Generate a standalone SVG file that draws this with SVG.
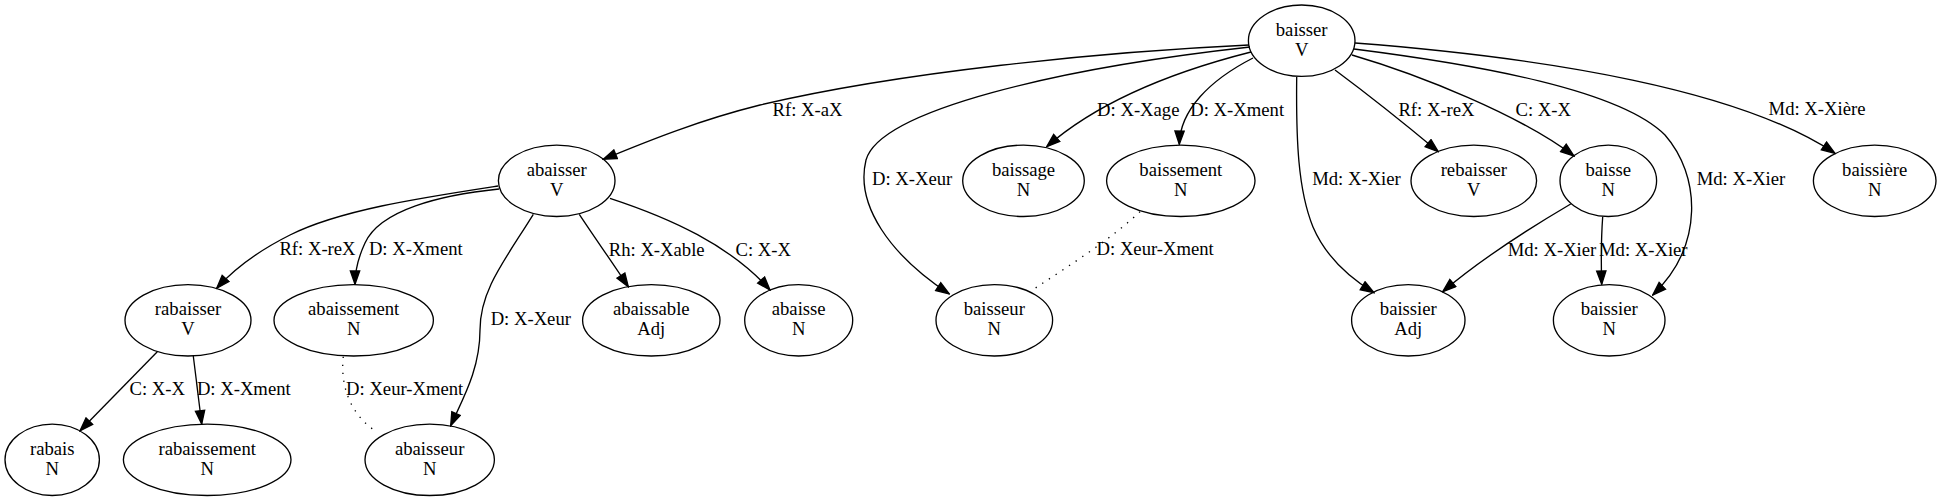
<svg xmlns="http://www.w3.org/2000/svg" width="1942" height="501" viewBox="0 0 1942 501">
<style>
.node ellipse{fill:none;stroke:#000;stroke-width:1.33}
text{font-family:"Liberation Serif","Times New Roman",serif;font-size:18.67px;fill:#000;text-anchor:middle}
.edge{fill:none;stroke:#000;stroke-width:1.33}
.arrow{marker-end:url(#ah)}
.dot{stroke-dasharray:1.33,6.67}
</style>
<defs>
<marker id="ah" markerUnits="userSpaceOnUse" viewBox="-1 -1 15.5 11.5" markerWidth="15.5" markerHeight="11.5" refX="13.33" refY="4.67" orient="auto">
<path d="M0,0 L13.33,4.67 L0,9.33 z" fill="#000" stroke="#000" stroke-width="1.33"/>
</marker>
</defs>
<rect x="0" y="0" width="1942" height="501" fill="#fff"/>
<g id="edges">
<path class="edge arrow" d="M1249,45 C1100,52 900,72 760,105 C700,120 650,140 603.3,159.3"/>
<text x="807.5" y="116">Rf: X-aX</text>
<path class="edge arrow" d="M1250,47 C1060,68 880,110 866,160 C855,205 890,255 949.3,294"/>
<text x="912.2" y="185">D: X-Xeur</text>
<path class="edge arrow" d="M1251,52 C1180,70 1100,100 1046.7,146.7"/>
<text x="1138.3" y="116">D: X-Xage</text>
<path class="edge arrow" d="M1253,58 C1210,80 1180,110 1179.3,144.3"/>
<text x="1237.2" y="116">D: X-Xment</text>
<path class="edge arrow" d="M1296.7,77 C1296,140 1298,190 1313,227 C1325,255 1345,275 1374,292.7"/>
<text x="1356.5" y="185">Md: X-Xier</text>
<path class="edge arrow" d="M1335,70 C1370,96 1405,124 1438.3,151.7"/>
<text x="1436.5" y="116">Rf: X-reX</text>
<path class="edge arrow" d="M1352,55 C1420,75 1520,115 1574,156"/>
<text x="1543.3" y="116">C: X-X</text>
<path class="edge arrow" d="M1354,49 C1480,65 1620,90 1665,135 C1700,175 1705,245 1652.7,295"/>
<text x="1741" y="185">Md: X-Xier</text>
<path class="edge arrow" d="M1355,43 C1550,58 1740,90 1835,153.3"/>
<text x="1817" y="115">Md: X-Xière</text>
<path class="edge arrow" d="M498,186 C420,198 340,210 290,235 C260,250 235,268 216.7,288.3"/>
<text x="317.5" y="255">Rf: X-reX</text>
<path class="edge arrow" d="M499,189 C440,195 380,210 365,243 C358,258 355,270 355,284.3"/>
<text x="415.8" y="255">D: X-Xment</text>
<path class="edge arrow" d="M533.3,214.3 C505,260 480,290 480,330 C480,370 462,400 450.7,425.7"/>
<text x="530.8" y="325">D: X-Xeur</text>
<path class="edge arrow" d="M579.3,214.3 C595,238 612,262 628.3,286.7"/>
<text x="656.7" y="256">Rh: X-Xable</text>
<path class="edge arrow" d="M610,198.3 C670,218 730,245 770,290"/>
<text x="763.3" y="256">C: X-X</text>
<path class="edge arrow" d="M157.3,351.7 L80,430.7"/>
<text x="157.3" y="395">C: X-X</text>
<path class="edge arrow" d="M193.3,356 L201.7,424"/>
<text x="243.8" y="395">D: X-Xment</text>
<path class="edge dot" d="M343.3,356.7 C340,385 350,415 376.7,431.7"/>
<text x="404.7" y="395">D: Xeur-Xment</text>
<path class="edge dot" d="M1140,211.7 C1110,240 1070,265 1035,288.3"/>
<text x="1155.2" y="255">D: Xeur-Xment</text>
<path class="edge arrow" d="M1570.7,204 C1535,225 1480,260 1442.7,291.7"/>
<text x="1552" y="256">Md: X-Xier</text>
<path class="edge arrow" d="M1602.7,216.7 C1601,240 1601,260 1601.7,284.3"/>
<text x="1643.3" y="256">Md: X-Xier</text>
</g>
<g id="node-baisser" class="node"><ellipse cx="1301.7" cy="40.7" rx="53.3" ry="35.7"/><text x="1301.7" y="35.6">baisser</text><text x="1301.7" y="55.6">V</text></g>
<g id="node-abaisser" class="node"><ellipse cx="556.7" cy="180.8" rx="58.3" ry="35.7"/><text x="556.7" y="175.7">abaisser</text><text x="556.7" y="195.7">V</text></g>
<g id="node-baissage" class="node"><ellipse cx="1023.5" cy="180.8" rx="60.8" ry="35.7"/><text x="1023.5" y="175.7">baissage</text><text x="1023.5" y="195.7">N</text></g>
<g id="node-baissement" class="node"><ellipse cx="1180.8" cy="180.8" rx="74.2" ry="35.7"/><text x="1180.8" y="175.7">baissement</text><text x="1180.8" y="195.7">N</text></g>
<g id="node-rebaisser" class="node"><ellipse cx="1473.8" cy="180.8" rx="62.8" ry="35.7"/><text x="1473.8" y="175.7">rebaisser</text><text x="1473.8" y="195.7">V</text></g>
<g id="node-baisse" class="node"><ellipse cx="1608.3" cy="180.8" rx="48.3" ry="35.7"/><text x="1608.3" y="175.7">baisse</text><text x="1608.3" y="195.7">N</text></g>
<g id="node-baissiere" class="node"><ellipse cx="1874.7" cy="180.8" rx="61.3" ry="35.7"/><text x="1874.7" y="175.7">baissière</text><text x="1874.7" y="195.7">N</text></g>
<g id="node-rabaisser" class="node"><ellipse cx="188" cy="320.3" rx="63" ry="35.7"/><text x="188" y="315.2">rabaisser</text><text x="188" y="335.2">V</text></g>
<g id="node-abaissement" class="node"><ellipse cx="353.7" cy="320.3" rx="79.7" ry="35.7"/><text x="353.7" y="315.2">abaissement</text><text x="353.7" y="335.2">N</text></g>
<g id="node-abaissable" class="node"><ellipse cx="651.3" cy="320.3" rx="68.7" ry="35.7"/><text x="651.3" y="315.2">abaissable</text><text x="651.3" y="335.2">Adj</text></g>
<g id="node-abaisse" class="node"><ellipse cx="798.7" cy="320.3" rx="54" ry="35.7"/><text x="798.7" y="315.2">abaisse</text><text x="798.7" y="335.2">N</text></g>
<g id="node-baisseur" class="node"><ellipse cx="994.3" cy="320.3" rx="58.3" ry="35.7"/><text x="994.3" y="315.2">baisseur</text><text x="994.3" y="335.2">N</text></g>
<g id="node-baissier-adj" class="node"><ellipse cx="1408.3" cy="320.3" rx="56.7" ry="35.7"/><text x="1408.3" y="315.2">baissier</text><text x="1408.3" y="335.2">Adj</text></g>
<g id="node-baissier-n" class="node"><ellipse cx="1609.2" cy="320.3" rx="55.8" ry="35.7"/><text x="1609.2" y="315.2">baissier</text><text x="1609.2" y="335.2">N</text></g>
<g id="node-rabais" class="node"><ellipse cx="52.2" cy="459.8" rx="47.2" ry="35.7"/><text x="52.2" y="454.7">rabais</text><text x="52.2" y="474.7">N</text></g>
<g id="node-rabaissement" class="node"><ellipse cx="207.2" cy="459.8" rx="83.8" ry="35.7"/><text x="207.2" y="454.7">rabaissement</text><text x="207.2" y="474.7">N</text></g>
<g id="node-abaisseur" class="node"><ellipse cx="429.7" cy="459.8" rx="64.7" ry="35.7"/><text x="429.7" y="454.7">abaisseur</text><text x="429.7" y="474.7">N</text></g>
</svg>
